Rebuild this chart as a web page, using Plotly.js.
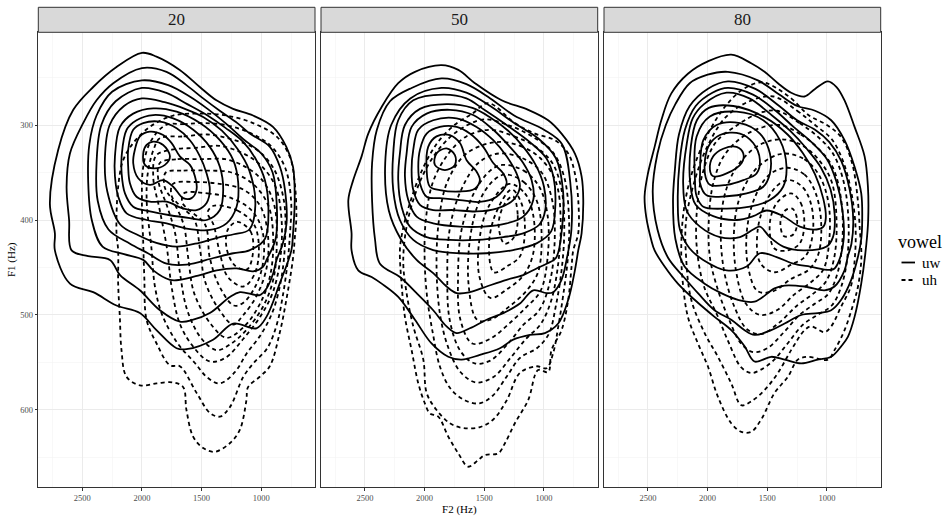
<!DOCTYPE html>
<html><head><meta charset="utf-8">
<script src="https://cdn.plot.ly/plotly-3.0.1.min.js"></script>
<style>html,body{margin:0;padding:0;background:#fff}#chart{width:945px;height:516px}</style>
</head><body><div id="chart"></div>
<script>
// ---- data (F2 Hz, F1 Hz) ----
const facets = ['20', '50', '80'];
const vowels = ['uw', 'uh'];
const xTicks = [1000, 1500, 2000, 2500];
const xMinor = [750, 1250, 1750, 2250, 2750];
const yTicks = [300, 400, 500, 600];
const yMinor = [250, 350, 450, 550, 650];

// facet 20, vowel uw (solid contours, outer -> inner)
const p20_uw = [
 [[2000,224],[1878,228],[1683,242],[1515,260],[1376,274],[1236,283],[1069,290],[902,302],[790,323],[734,344],[720,379],[734,414],[748,432],[846,467],[957,502],[1041,514],[1236,509],[1404,526],[1627,536],[1710,535],[1878,516],[2017,498],[2213,490],[2408,476],[2603,467],[2729,432],[2729,414],[2771,383],[2701,326],[2575,284],[2408,260],[2213,239]],
 [[2000,240],[1794,244],[1627,258],[1487,272],[1348,285],[1200,298],[1096,309],[928,323],[844,344],[802,368],[788,403],[820,425],[872,442],[900,456],[956,472],[1012,479],[1179,476],[1263,481],[1431,498],[1570,505],[1682,507],[1849,495],[2017,474],[2183,458],[2268,442],[2450,438],[2589,432],[2610,400],[2631,365],[2603,330],[2492,298],[2380,274],[2240,256]],
 [[2000,253],[1780,258],[1600,270],[1450,283],[1300,298],[1150,315],[1000,330],[905,350],[870,385],[880,420],[956,442],[984,449],[1068,454],[1207,451],[1374,453],[1514,458],[1682,463],[1765,463],[1905,453],[1989,442],[2150,436],[2330,428],[2420,400],[2450,360],[2440,320],[2380,290],[2250,265]],
 [[2000,261],[1800,266],[1620,278],[1450,290],[1300,303],[1150,318],[1050,335],[970,358],[940,390],[970,420],[1100,432],[1235,435],[1400,440],[1626,447],[1793,446],[1950,435],[2100,425],[2280,410],[2370,380],[2380,340],[2340,300],[2220,275]],
 [[2000,272],[1810,276],[1640,283],[1480,292],[1330,306],[1200,325],[1100,348],[1050,385],[1100,410],[1230,415],[1347,418],[1520,424],[1709,428],[1879,424],[2030,416],[2180,405],[2290,370],[2310,335],[2270,300],[2150,280]],
 [[2226,333],[2184,302],[2073,288],[1905,282.5],[1709,286],[1514,298],[1347,316],[1235,337],[1193,361],[1207,386],[1291,403.5],[1431,410.5],[1626,409],[1793,403.5],[1961,400],[2128,393],[2198,375.5],[2226,354]],
 [[2170,333],[2128,305],[2045,295],[1905,289.5],[1738,293],[1570,305],[1431,323],[1347,344],[1319,368],[1347,389.5],[1458,400],[1598,398],[1765,395],[1933,391],[2073,386],[2142,372],[2170,351]],
 [[2115,326],[2073,305],[1989,298],[1849,296.5],[1709,303.5],[1598,316],[1514,333],[1458,351],[1431,368],[1458,382],[1542,389.5],[1654,388],[1793,380.7],[1933,380.7],[2045,375.5],[2101,361],[2115,344]],
 [[2059,326],[2017,312],[1933,307],[1822,310.5],[1751,319],[1682,333],[1598,342],[1556,354],[1542,368],[1584,377],[1654,377],[1738,365],[1822,358],[1933,363],[2031,356],[2073,340]],
 [[1961,321],[1905,317.5],[1822,321],[1765,333],[1807,342],[1905,345.6],[1975,342],[1989,330]]
];
// facet 20, vowel uh (dashed contours)
const p20_uh = [
 [[1738,290],[1515,288],[1292,290],[1069,298],[873,312],[762,333],[720,361],[706,396],[720,420],[734,440],[790,484],[846,519],[929,554],[1013,565],[1111,576],[1125,590],[1180,621],[1264,635],[1390,644],[1487,640],[1571,628],[1627,600],[1654,576],[1738,571],[1878,572],[2017,574],[2129,565],[2171,537],[2185,502],[2199,467],[2199,432],[2213,414],[2199,365],[2157,337],[2073,319],[1934,302]],
 [[1800,300],[1650,299],[1500,298],[1300,300],[1100,308],[920,322],[800,345],[750,380],[760,415],[780,445],[820,480],[870,510],[950,535],[1060,550],[1150,565],[1263,597],[1347,607],[1431,603],[1542,582],[1682,554],[1765,553],[1877,530],[1961,505],[1980,460],[1990,420],[2000,380],[1990,345],[1930,318]],
 [[1850,314],[1650,312],[1450,310],[1250,315],[1050,325],[900,345],[810,380],[800,420],[830,460],[900,495],[1000,520],[1120,540],[1220,560],[1347,572],[1450,566],[1560,550],[1700,530],[1830,500],[1891,470],[1920,430],[1960,380],[1950,350],[1900,325]],
 [[1880,332],[1750,326],[1550,324],[1350,322],[1150,330],[1000,343],[880,365],[830,400],[840,440],[900,475],[1000,500],[1150,525],[1300,545],[1431,549],[1560,535],[1680,510],[1752,470],[1790,430],[1850,390],[1905,355]],
 [[1850,340],[1700,336],[1500,336],[1300,336],[1120,345],[980,360],[890,385],[870,420],[895,460],[980,490],[1120,515],[1250,530],[1374,537],[1500,525],[1620,495],[1682,455],[1720,415],[1790,385],[1860,360]],
 [[1800,350],[1650,348],[1450,348],[1250,350],[1070,362],[940,385],[900,420],[925,458],[1010,488],[1150,513],[1291,524],[1420,510],[1560,478],[1612,440],[1650,405],[1740,380],[1810,365]],
 [[1740,362],[1550,360],[1350,362],[1150,368],[1010,385],[945,415],[955,450],[1040,480],[1150,500],[1235,510],[1350,495],[1470,465],[1514,430],[1560,400],[1680,385],[1750,375]],
 [[1650,372],[1450,372],[1250,377],[1080,390],[990,412],[985,445],[1050,470],[1150,487],[1230,490],[1350,470],[1431,440],[1470,405],[1600,390],[1660,382]],
 [[1400,385],[1200,390],[1060,405],[1020,432],[1060,458],[1150,470],[1280,460],[1347,435],[1400,405],[1450,392]],
 [[1200,402],[1090,412],[1070,435],[1120,452],[1220,448],[1290,430],[1280,410]]
];
// facet 50, vowel uw
const p50_uw = [
 [[1858,237],[1718,242],[1579,256],[1355,274],[1132,284],[965,295],[853,309],[741,330],[685,354],[671,379],[685,414],[713,432],[741,453],[797,484],[881,509],[992,519],[1118,521],[1258,526],[1369,535],[1537,542],[1690,547],[1802,544],[1942,530],[2081,505],[2221,481],[2360,467],[2444,460],[2556,453],[2612,432],[2612,414],[2639,379],[2598,358],[2528,333],[2472,309],[2360,281],[2221,256],[2081,244]],
 [[1858,251],[1650,257],[1450,272],[1250,290],[1000,305],[850,320],[780,360],[770,410],[811,442],[853,463],[923,476],[978,477],[1090,474],[1202,488],[1341,498],[1481,505],[1621,514],[1732,519],[1816,512],[1928,495],[2067,477],[2207,460],[2374,446],[2416,420],[2440,380],[2440,340],[2400,305],[2290,275],[2109,261]],
 [[1858,261],[1650,266],[1450,280],[1250,298],[1050,314],[900,335],[840,370],[850,410],[900,440],[978,446],[1062,451],[1174,458],[1313,463],[1481,470],[1621,476],[1732,477],[1816,470],[1928,456],[2067,442],[2200,420],[2300,390],[2330,340],[2280,300],[2120,272]],
 [[1844,268],[1650,272],[1500,284],[1313,300],[1118,318],[980,335],[920,355],[905,385],[940,412],[1062,424.6],[1258,431.6],[1481,435],[1704,435],[1928,431.6],[2095,421],[2207,400],[2263,368.5],[2263,330],[2221,295],[2095,274]],
 [[1816,278],[1600,282],[1450,292],[1300,306],[1180,322],[1070,342],[1000,365],[990,390],[1040,405],[1174,414],[1341,418],[1565,421],[1788,421],[1983,418],[2123,407],[2193,386],[2221,358],[2207,330],[2165,300],[2039,283]],
 [[2151,330],[2109,302],[1983,288],[1788,284],[1593,289.5],[1425,305],[1286,323],[1174,340],[1104,358],[1090,379],[1174,396.5],[1313,403.6],[1509,407],[1704,407],[1928,403.6],[2067,396.5],[2137,379],[2165,354]],
 [[2095,326],[2053,305],[1928,295],[1732,293],[1565,302],[1425,316],[1313,333],[1230,351],[1202,365],[1258,379],[1397,388],[1565,391],[1760,389.5],[1928,389.5],[2039,384],[2095,368.5],[2109,347]],
 [[2039,326],[1983,309],[1872,302],[1732,302],[1621,309],[1509,323],[1425,340],[1341,351],[1313,361.5],[1397,375.5],[1537,381],[1704,379],[1872,377],[1983,375.5],[2039,361.5],[2053,344]],
 [[1970,323],[1900,312],[1788,310.6],[1704,319],[1648,337],[1565,349],[1537,358],[1579,367],[1704,370],[1872,368.5],[1956,365],[1983,347]],
 [[1900,330],[1816,324.6],[1746,331.6],[1746,342],[1830,347.4],[1914,342]]
];
// facet 50, vowel uh
const p50_uh = [
 [[1467,277],[1244,298],[1076,309],[909,316],[797,330],[741,351],[713,379],[713,414],[755,432],[769,449],[797,484],[853,516],[937,537],[965,560],[1049,558],[1132,589.5],[1244,614],[1327,635],[1383,645.6],[1495,647.4],[1551,652.7],[1635,659.7],[1718,645.6],[1802,628],[1886,607],[1956,603.6],[1998,593],[2053,572],[2109,537],[2165,502],[2193,467],[2207,432],[2190,415],[2130,385],[2030,350],[1900,320],[1750,300],[1600,288]],
 [[1500,294],[1300,300],[1100,312],[930,328],[830,355],[790,400],[800,440],[840,480],[880,512],[923,540],[978,556],[1062,554],[1202,561],[1313,590],[1425,610],[1537,618],[1676,619],[1788,614],[1900,600],[1983,582],[2011,547],[2095,512],[2151,477],[2179,442],[2140,400],[2040,360],[1920,332],[1780,312],[1640,300]],
 [[1450,305],[1250,312],[1080,322],[930,340],[850,370],[830,410],[850,450],[900,490],[960,520],[1060,535],[1200,545],[1313,565],[1430,585],[1540,593],[1660,590],[1780,578],[1870,555],[1930,520],[1980,480],[2000,440],[1990,400],[1930,360],[1800,330],[1650,312]],
 [[1400,318],[1200,322],[1030,335],[900,360],[860,400],[880,445],[940,485],[1030,510],[1150,525],[1280,545],[1420,565],[1570,571],[1700,560],[1800,535],[1870,500],[1900,450],[1880,400],[1810,360],[1650,330]],
 [[1380,330],[1180,335],[1020,350],[930,380],[910,420],[950,465],[1040,495],[1170,510],[1300,530],[1450,548],[1580,551],[1700,538],[1790,505],[1810,460],[1790,410],[1700,370],[1550,340]],
 [[1350,342],[1170,348],[1040,365],[970,395],[970,440],[1030,475],[1150,492],[1300,510],[1450,525],[1600,530],[1700,505],[1720,460],[1690,410],[1580,370],[1450,348]],
 [[1320,352],[1170,360],[1060,380],[1020,415],[1050,455],[1150,475],[1300,492],[1450,505],[1560,505],[1630,470],[1620,420],[1540,380],[1420,358]],
 [[1290,362],[1160,372],[1090,395],[1090,435],[1170,458],[1300,472],[1450,482],[1540,460],[1540,420],[1460,385]],
 [[1270,368],[1190,382],[1160,410],[1200,438],[1300,448],[1420,455],[1460,425],[1400,392]],
 [[1260,375],[1220,395],[1250,418],[1330,425],[1380,405],[1330,383]]
];
// facet 80, vowel uw
const p80_uw = [
 [[1802,226],[1635,235],[1523,244],[1411,256],[1300,266],[1188,270],[1100,262],[992,254],[920,260],[853,274],[769,302],[685,333],[657,365],[655,400],[670,425],[713,467],[769,502],[825,523],[881,533],[965,544],[1077,547],[1216,551],[1355,547],[1467,544],[1607,549],[1690,533],[1802,516],[1942,502],[2109,484],[2249,467],[2360,449],[2444,432],[2472,421],[2514,397],[2528,375],[2500,351],[2444,323],[2388,295],[2305,267],[2165,246],[1998,233]],
 [[1830,244],[1579,253],[1400,268],[1250,280],[1100,285],[965,295],[853,316],[769,344],[713,372],[705,400],[713,420],[741,439],[797,463],[881,484],[965,495],[1077,498],[1216,500],[1355,509],[1467,516],[1607,521],[1690,516],[1802,505],[1942,495],[2081,477],[2200,460],[2330,440],[2420,410],[2460,370],[2420,330],[2350,300],[2270,278],[2150,256],[2000,247]],
 [[1830,254],[1600,262],[1400,280],[1250,295],[1100,305],[980,318],[880,338],[810,368],[780,400],[795,425],[825,438],[853,453],[937,470],[1021,474],[1188,470],[1355,469],[1439,472],[1607,486],[1746,484],[1886,477],[2025,467],[2193,449],[2270,420],[2290,380],[2274,347],[2240,310],[2150,280],[2000,262]],
 [[1830,261],[1620,268],[1430,285],[1280,302],[1130,318],[1000,336],[920,360],[870,390],[860,420],[900,443],[948,452],[1143,449],[1283,446],[1422,439],[1562,435],[1673,449],[1841,453],[2037,442],[2150,430],[2232,410],[2250,380],[2235,340],[2190,305],[2100,280],[1960,266]],
 [[1841,266],[1650,272],[1460,290],[1310,306],[1170,325],[1050,345],[970,368],[935,395],[950,418],[1003,428],[1199,432],[1366,428],[1478,418],[1562,407],[1618,410],[1729,418],[1897,418],[2064,407],[2176,390],[2205,360],[2175,320],[2125,293],[2030,278]],
 [[1785,280],[1520,292],[1330,310],[1200,330],[1100,352],[1030,378],[1010,398],[1030,407],[1087,410],[1227,407],[1366,396],[1506,390],[1618,396],[1757,400],[1953,396],[2100,384],[2145,362],[2140,322],[2090,295],[1990,282]],
 [[2106,358],[2092,312],[1981,291],[1757,286],[1534,295],[1394,316],[1339,344],[1367,365],[1478,379],[1646,386],[1841,388],[2036,386],[2092,375]],
 [[2064,354],[2036,316],[1925,300],[1729,298],[1562,309],[1478,330],[1478,351],[1534,365],[1673,372],[1841,375],[2009,374],[2064,361]],
 [[2023,351],[1995,323],[1897,310.5],[1729,309],[1618,319],[1562,337],[1590,351],[1701,358],[1841,363],[1981,363]],
 [[1981,347],[1953,333],[1869,325],[1757,323],[1701,330],[1715,340],[1841,351],[1953,354]]
];
// facet 80, vowel uh
const p80_uh = [
 [[1467,258],[1300,272],[1150,290],[1000,300],[880,313],[790,340],[745,375],[725,410],[712,440],[740,470],[769,484],[853,516],[937,537],[993,547],[1160,544],[1244,547],[1327,565],[1439,582],[1551,610],[1635,623],[1718,623],[1802,614],[1914,586],[1998,554],[2081,530],[2165,502],[2207,467],[2221,432],[2200,390],[2130,350],[2000,310],[1850,280],[1700,262],[1550,255]],
 [[1450,270],[1250,285],[1100,300],[960,315],[860,340],[790,375],[760,410],[770,445],[800,470],[881,491],[965,512],[1021,518],[1132,512],[1188,516],[1300,537],[1411,561],[1523,579],[1635,591],[1718,595],[1802,572],[1914,544],[2025,519],[2137,484],[2180,440],[2180,400],[2100,355],[2000,322],[1850,292],[1650,275]],
 [[1420,285],[1230,298],[1080,312],[950,330],[860,360],[820,400],[830,440],[880,470],[960,490],[1080,500],[1200,510],[1330,530],[1450,548],[1560,558],[1635,561],[1720,555],[1820,530],[1920,500],[2030,470],[2090,430],[2090,390],[2040,350],[1930,318],[1750,300],[1580,288]],
 [[1400,300],[1220,310],[1070,325],[950,345],[880,380],[870,420],[910,455],[990,478],[1100,488],[1230,500],[1360,518],[1500,535],[1620,539],[1720,530],[1820,505],[1910,475],[1980,440],[1990,400],[1950,360],[1850,330],[1650,308]],
 [[1380,315],[1200,322],[1060,338],[960,360],[920,400],[940,440],[1010,465],[1120,478],[1250,490],[1400,508],[1550,520],[1670,515],[1780,490],[1860,455],[1890,415],[1860,375],[1760,345],[1580,322]],
 [[1350,330],[1190,336],[1070,352],[990,380],[980,420],[1030,452],[1130,465],[1270,478],[1420,495],[1560,500],[1680,488],[1760,455],[1780,415],[1740,380],[1620,350],[1480,335]],
 [[1330,345],[1190,352],[1100,370],[1050,400],[1070,435],[1150,452],[1300,462],[1450,475],[1580,475],[1660,450],[1670,410],[1600,375],[1480,352]],
 [[1310,358],[1200,366],[1130,385],[1120,415],[1180,438],[1300,447],[1440,455],[1560,445],[1580,410],[1500,378],[1400,362]],
 [[1300,372],[1220,382],[1190,405],[1230,425],[1330,432],[1440,430],[1480,405],[1420,382]],
 [[1290,388],[1250,400],[1280,415],[1360,417],[1390,402],[1350,390]]
];

const contourSets = {
  '20': {uw: p20_uw, uh: p20_uh},
  '50': {uw: p50_uw, uh: p50_uh},
  '80': {uw: p80_uw, uh: p80_uh}
};

// ---- layout geometry ----
const W = 945, H = 516;
const panelPx = [[38.3, 315], [321, 597.7], [604, 880.7]];
const plotTop = 32.3, plotBottom = 487.3, stripTop = 7.3;
const px2x = p => p / W, py2y = p => 1 - p / H;
const dashStyle = {uw: 'solid', uh: '4px,3.4px'};
const serif = 'Liberation Serif';

const traces = [];
facets.forEach((f, i) => {
  const ax = i === 0 ? '' : String(i + 1);
  vowels.forEach(v => {
    contourSets[f][v].forEach(c => {
      const pts = c.slice();
      const a = pts[0], b = pts[pts.length - 1];
      if (a[0] !== b[0] || a[1] !== b[1]) pts.push(a);
      traces.push({
        type: 'scatter', mode: 'lines',
        x: pts.map(p => p[0]), y: pts.map(p => p[1]),
        xaxis: 'x' + ax, yaxis: 'y' + ax,
        line: {color: '#000', width: 1.8, shape: 'spline', smoothing: 1, dash: dashStyle[v]},
        hoverinfo: 'skip', showlegend: false, name: v
      });
    });
  });
});

const layout = {
  width: W, height: H,
  margin: {l: 0, r: 0, t: 0, b: 0},
  paper_bgcolor: '#fff', plot_bgcolor: '#fff',
  showlegend: false,
  font: {family: serif, color: '#000'},
  shapes: [], annotations: []
};

facets.forEach((f, i) => {
  const ax = i === 0 ? '' : String(i + 1);
  const xa = {
    domain: [px2x(panelPx[i][0]), px2x(panelPx[i][1])],
    range: [2868, 550], anchor: 'y' + ax,
    tickmode: 'array', tickvals: xTicks, ticktext: xTicks.map(String),
    ticks: 'outside', ticklen: 2.7, tickwidth: 1, tickcolor: '#333',
    tickfont: {family: serif, size: 8.5, color: '#4d4d4d'},
    showgrid: true, gridcolor: '#ebebeb', gridwidth: 1,
    minor: {tickmode: 'array', tickvals: xMinor, showgrid: true, gridcolor: '#f3f3f3', gridwidth: 0.6, ticks: ''},
    zeroline: false, showline: true, mirror: true, linecolor: '#333', linewidth: 1
  };
  const ya = {
    domain: [py2y(plotBottom), py2y(plotTop)],
    range: [681.4, 202.4], anchor: 'x' + ax,
    tickmode: 'array', tickvals: yTicks, ticktext: yTicks.map(String),
    ticks: i === 0 ? 'outside' : '', ticklen: 2.7, tickwidth: 1, tickcolor: '#333',
    showticklabels: i === 0,
    tickfont: {family: serif, size: 8.5, color: '#4d4d4d'},
    showgrid: true, gridcolor: '#ebebeb', gridwidth: 1,
    minor: {tickmode: 'array', tickvals: yMinor, showgrid: true, gridcolor: '#f3f3f3', gridwidth: 0.6, ticks: ''},
    zeroline: false, showline: true, mirror: true, linecolor: '#333', linewidth: 1
  };
  if (i === 1) xa.title = {text: 'F2 (Hz)', font: {family: serif, size: 11, color: '#000'}, standoff: 3};
  if (i === 0) ya.title = {text: 'F1 (Hz)', font: {family: serif, size: 11, color: '#000'}, standoff: 2};
  layout['xaxis' + ax] = xa;
  layout['yaxis' + ax] = ya;
  // strip
  layout.shapes.push({type: 'rect', xref: 'paper', yref: 'paper',
    x0: px2x(panelPx[i][0]), x1: px2x(panelPx[i][1]), y0: py2y(plotTop), y1: py2y(stripTop),
    fillcolor: '#d9d9d9', line: {color: '#333', width: 1}, layer: 'above'});
  layout.annotations.push({xref: 'paper', yref: 'paper',
    x: px2x((panelPx[i][0] + panelPx[i][1]) / 2), y: py2y((plotTop + stripTop) / 2),
    text: f, showarrow: false, xanchor: 'center', yanchor: 'middle',
    font: {family: serif, size: 17, color: '#1a1a1a'}});
});

// legend (drawn manually to match ggplot key size)
layout.annotations.push({xref: 'paper', yref: 'paper', x: px2x(896), y: py2y(242),
  text: 'vowel', showarrow: false, xanchor: 'left', yanchor: 'middle',
  font: {family: serif, size: 18, color: '#000'}});
const keyY = {uw: 262.5, uh: 280};
vowels.forEach(v => {
  layout.shapes.push({type: 'line', xref: 'paper', yref: 'paper',
    x0: px2x(901.5), x1: px2x(915), y0: py2y(keyY[v]), y1: py2y(keyY[v]),
    line: {color: '#000', width: 1.8, dash: v === 'uw' ? 'solid' : '4px,3px'}});
  layout.annotations.push({xref: 'paper', yref: 'paper', x: px2x(919.5), y: py2y(keyY[v]),
    text: v, showarrow: false, xanchor: 'left', yanchor: 'middle',
    font: {family: serif, size: 15, color: '#000'}});
});

Plotly.newPlot('chart', traces, layout, {staticPlot: true, displayModeBar: false});
</script>
</body></html>
